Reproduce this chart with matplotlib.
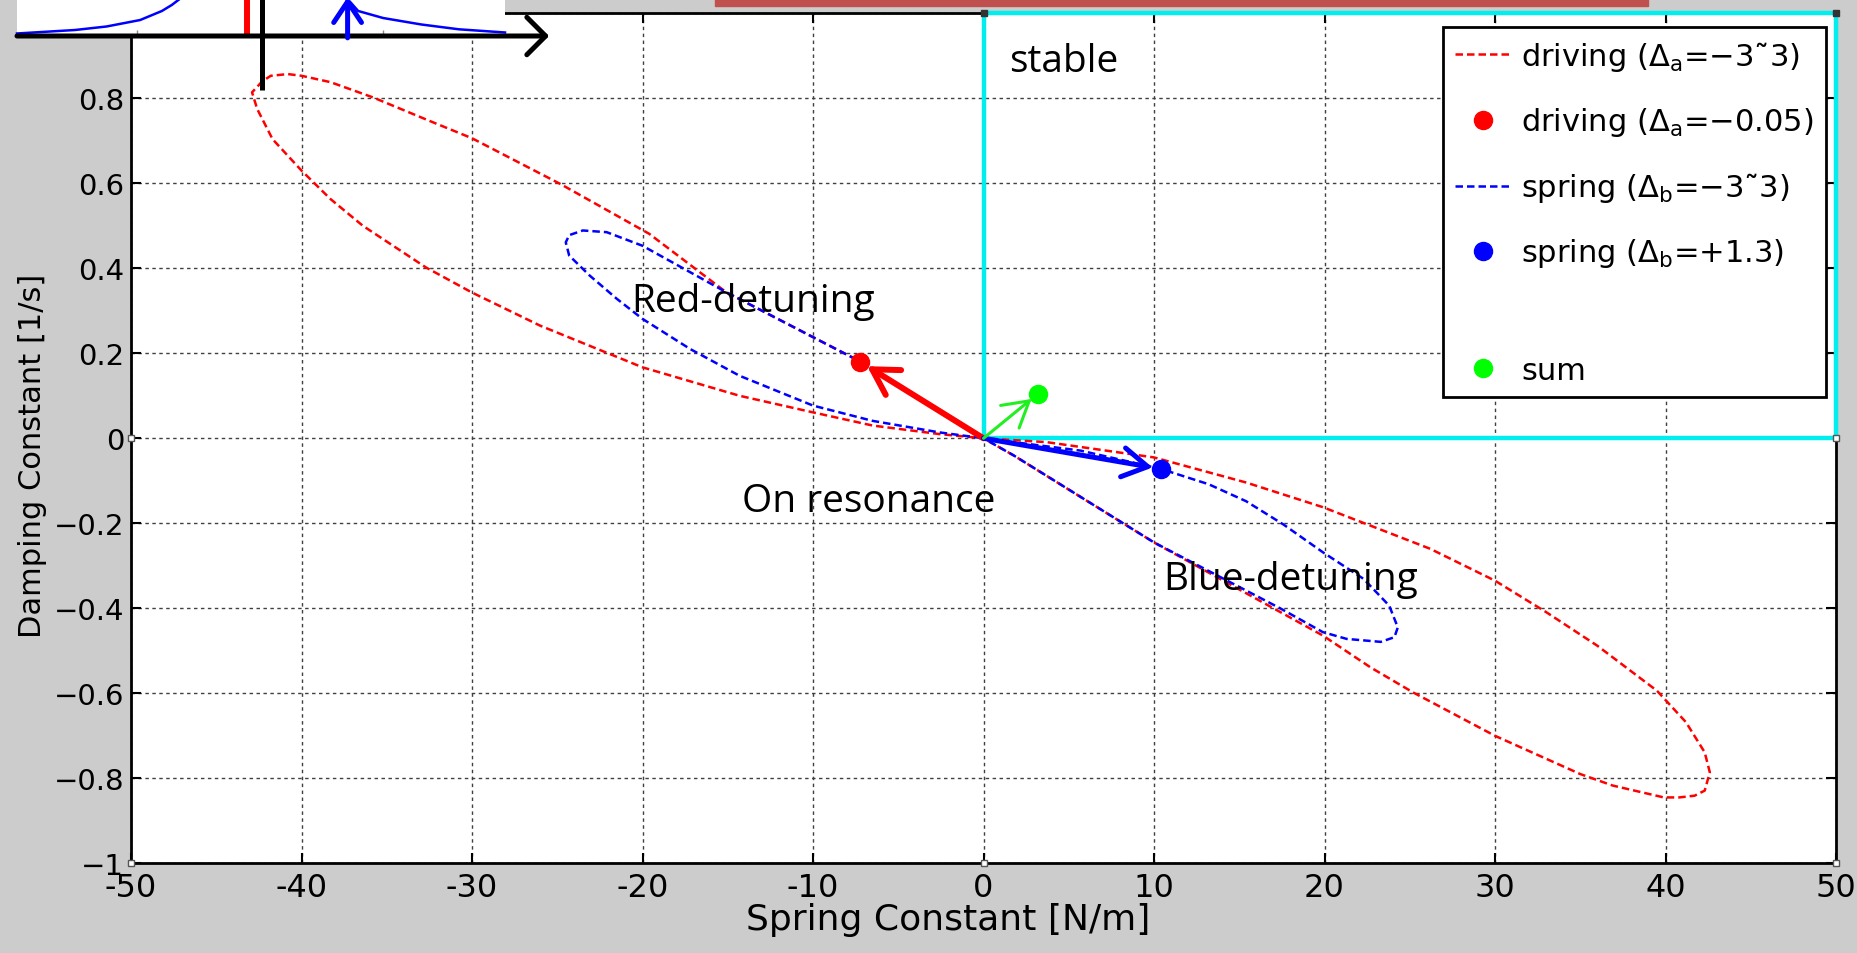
import numpy as np
import matplotlib.pyplot as plt
from matplotlib.patches import Rectangle
from matplotlib.lines import Line2D

# driving loop (Delta_a = -3 ~ 3)
drive_k = [0, -7.2, -10, -15.1, -19.6, -24.8, -30, -32.5, -35.8, -38.3, -40, -40.8, -41.8, -42.3, -42.9,
           -42.6, -41.7, -40, -38.3, -36.4, -32.7, -30, -26, -20, -14.3, -10, -6.5, -2.6, 0,
           3.7, 10, 15.4, 19.9, 26.2, 30, 33, 36, 39.5, 41.2, 42.3, 42.6, 42.3, 41.7, 40.8, 39.9,
           36.9, 35, 30, 25.2, 22.7, 19.9, 10, 1.8, 0]
drive_g = [0, 0.18, 0.238, 0.344, 0.481, 0.598, 0.706, 0.747, 0.802, 0.838, 0.853, 0.857, 0.853, 0.84, 0.814,
           0.775, 0.704, 0.63, 0.563, 0.50, 0.402, 0.343, 0.265, 0.167, 0.10, 0.061, 0.030, 0.010, 0,
           -0.009, -0.045, -0.104, -0.162, -0.26, -0.335, -0.409, -0.488, -0.594, -0.668, -0.739, -0.786, -0.829, -0.841, -0.845, -0.845,
           -0.817, -0.79, -0.70, -0.598, -0.539, -0.464, -0.245, -0.041, 0]

# spring loop (Delta_b = -3 ~ 3)
spring_k = [0, -7.2, -10, -15.1, -20, -22.1, -23.5, -24.3, -24.5, -24.3, -23.1, -21.5, -20, -17.2, -14.3,
            -10, -6.5, -2.6, 0, 5.7, 10.4, 13.2, 15.4, 17.6, 19.9, 22.3, 23.8, 24.3, 24.1, 23.3, 21.3, 19.9, 17.4, 10, 1.8, 0]
spring_g = [0, 0.18, 0.238, 0.344, 0.453, 0.485, 0.489, 0.478, 0.461, 0.43, 0.383, 0.328, 0.281, 0.21, 0.147,
            0.077, 0.041, 0.014, 0, -0.029, -0.072, -0.108, -0.148, -0.203, -0.268, -0.331, -0.394, -0.445, -0.468, -0.479, -0.472, -0.456, -0.40, -0.245, -0.041, 0]

drive_pt = (-7.24, 0.18)     # Delta_a = -0.05
spring_pt = (10.4, -0.072)   # Delta_b = +1.3
sum_pt = (3.2, 0.105)

labels = ['driving ($\\Delta_{\\rm a}$=\u22123\u02dc3)', 'driving ($\\Delta_{\\rm a}$=\u22120.05)',
          'spring ($\\Delta_{\\rm b}$=\u22123\u02dc3)', 'spring ($\\Delta_{\\rm b}$=+1.3)', '', 'sum']

xticks = [-50, -40, -30, -20, -10, 0, 10, 20, 30, 40, 50]
xtick_labels = ['-50', '-40', '-30', '-20', '-10', '0', '10', '20', '30', '40', '50']
yticks = [-1, -0.8, -0.6, -0.4, -0.2, 0, 0.2, 0.4, 0.6, 0.8, 1]
ytick_labels = ['\u22121', '\u22120.8', '\u22120.6', '\u22120.4', '\u22120.2', '0', '0.2', '0.4', '0.6', '0.8', '1']

# small inset (cavity resonance sketch), x in detuning units
inset_left_x = [-3.72, -2.84, -2.36, -1.85, -1.52, -1.37, -1.25]
inset_left_y = [0.068, 0.162, 0.257, 0.432, 0.676, 0.838, 1.0]
inset_right_x = [1.34, 1.46, 1.84, 2.42, 2.99, 3.69]
inset_right_y = [0.919, 0.676, 0.486, 0.311, 0.181, 0.095]
inset_red_x = -0.23
inset_blue_x = 1.3
inset_ticks = [-1.9, 1.84]

W, H = 1857, 954
plt.rcParams['font.family'] = ['DejaVu Sans']
fig = plt.figure(figsize=(W/100, H/100), dpi=100, facecolor='#cccccc')
ax = fig.add_axes([131/W, 1-864.3/H, 1705/W, 850/H])

dash = (0, (3, 1.6))
h1, = ax.plot(drive_k, drive_g, color='#ff0000', ls=dash, lw=1.8, zorder=3)
h2, = ax.plot(*drive_pt, 'o', color='#ff0000', ms=13, zorder=5)
h3, = ax.plot(spring_k, spring_g, color='#0000ff', ls=dash, lw=1.8, zorder=3)
h4, = ax.plot(*spring_pt, 'o', color='#0000ff', ms=13, zorder=5)
h5 = Line2D([], [], ls='none')
h6, = ax.plot(*sum_pt, 'o', color='#00ff00', ms=13, zorder=5)

# vectors
for pt, c, w in [(drive_pt, '#ff0000', 4.3), (spring_pt, '#0000ff', 3.6), (sum_pt, '#22ee22', 2.2)]:
    ax.annotate('', xy=pt, xytext=(0, 0),
                arrowprops=dict(arrowstyle='->,head_length=0.6,head_width=0.35', color=c, lw=w,
                                mutation_scale=30, shrinkA=0, shrinkB=6), zorder=4)

# stable region
ax.add_patch(Rectangle((0, 0), 50, 1, fill=False, ec='#00eeee', lw=3.2, clip_on=False, zorder=2.6))

ax.text(1.5, 0.865, 'stable', fontsize=28, family='Open Sans', va='baseline')
ax.text(-20.67, 0.300, 'Red-detuning', fontsize=28, family='Open Sans', va='baseline')
ax.text(-14.18, -0.170, 'On resonance', fontsize=28, family='Open Sans', va='baseline')
ax.text(10.55, -0.355, 'Blue-detuning', fontsize=28, family='Open Sans', va='baseline')

ax.set_xlim(-50, 50)
ax.set_ylim(-1, 1)
ax.set_xticks(xticks)
ax.set_xticklabels(xtick_labels)
ax.set_yticks(yticks)
ax.set_yticklabels(ytick_labels)
ax.tick_params(direction='in', length=7, width=1.5, top=True, right=True)
ax.tick_params(axis='x', labelsize=23, pad=6)
ax.tick_params(axis='y', labelsize=21, pad=5)
ax.grid(True, ls=(0, (2.5, 2.5)), color='#404040', lw=1.0)
for s in ax.spines.values():
    s.set_linewidth(2)

ax.set_xlabel('Spring Constant [N/m]', fontsize=26)
ax.set_ylabel('Damping Constant [1/s]', fontsize=22)
ax.xaxis.set_label_coords(0.479, -0.0455)
ax.yaxis.set_label_coords(-0.049, 0.48)

leg = ax.legend([h1, h2, h3, h4, h5, h6], labels, loc='upper right', bbox_to_anchor=(0.994, 0.984),
                fontsize=22, fancybox=False, edgecolor='k', framealpha=1, borderpad=0.4,
                handlelength=1.8, handletextpad=0.35, labelspacing=1.05, borderaxespad=0, numpoints=1)
leg.get_frame().set_linewidth(2)
leg.get_texts()[4].set_fontsize(4)

# selection handles of the figure object
ax.plot([-50, 0, 50, -50, 50], [-1, -1, -1, 0, 0], 's', ms=5, mfc='white', mec='#555555', clip_on=False, zorder=6)
ax.plot([0, 50], [1, 1], 's', ms=5, color='#333333', clip_on=False, zorder=6)

# red title bar at the top of the slide
fig.add_artist(Rectangle((715/W, 1-7/H), 933/W, 7/H, transform=fig.transFigure, color='#c0504d'))

# inset sketch
ins = fig.add_axes([17/W, 1-37/H, 488/W, 37/H])
ins.set_xlim(-3.72, 3.69)
ins.set_ylim(0, 1)
ins.set_xticks([])
ins.set_yticks([])
for s in ins.spines.values():
    s.set_visible(False)
ins.plot(inset_left_x, inset_left_y, color='#0000ff', lw=1.8, clip_on=False)
ins.plot(inset_right_x, inset_right_y, color='#0000ff', lw=1.8, clip_on=False)
ins.vlines(inset_ticks, 0, 0.15, color='#888888', lw=1)
ins.plot([inset_red_x, inset_red_x], [0, 1], color='#ff0000', lw=4.3, solid_capstyle='butt')
ins.plot([0, 0], [1, -1.46], color='k', lw=3.6, clip_on=False, solid_capstyle='butt')
ins.annotate('', xy=(4.36, 0.0), xytext=(-3.72, 0.0), annotation_clip=False,
             arrowprops=dict(arrowstyle='->,head_length=0.45,head_width=0.45', color='k', lw=3.6,
                             mutation_scale=30, shrinkA=0, shrinkB=0))
ins.annotate('', xy=(inset_blue_x, 1.05), xytext=(inset_blue_x, -0.05), annotation_clip=False,
             arrowprops=dict(arrowstyle='->,head_length=0.6,head_width=0.4', color='#0000ff', lw=3.6,
                             mutation_scale=25, shrinkA=0, shrinkB=0))

fig.savefig('out.png', dpi=100, facecolor=fig.get_facecolor())
